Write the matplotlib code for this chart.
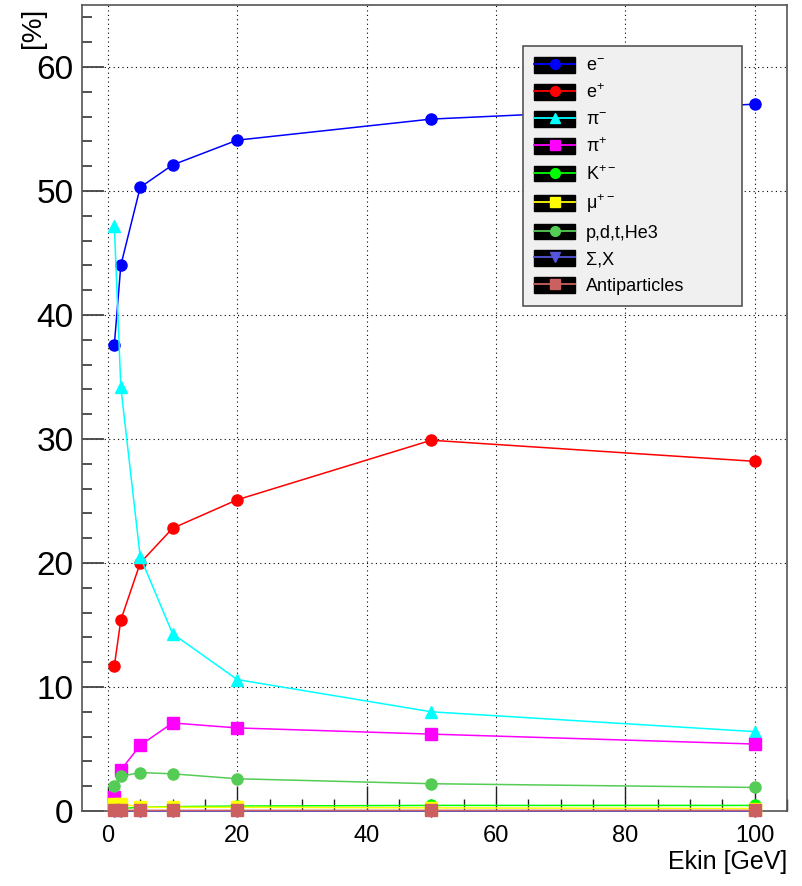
import matplotlib
matplotlib.use("Agg")
import matplotlib.pyplot as plt
from matplotlib.lines import Line2D
from matplotlib.patches import Rectangle
from matplotlib.legend_handler import HandlerTuple
from matplotlib.ticker import MultipleLocator

plt.rcParams['font.family'] = ['Liberation Sans', 'DejaVu Sans']
plt.rcParams['mathtext.fontset'] = 'custom'
plt.rcParams['mathtext.rm'] = 'Liberation Sans'
plt.rcParams['mathtext.it'] = 'Liberation Sans'

ekin = [1, 2, 5, 10, 20, 50, 100]

e_minus = [37.6, 44.0, 50.3, 52.1, 54.1, 55.8, 57.0]
e_plus = [11.7, 15.4, 20.0, 22.8, 25.1, 29.9, 28.2]
pi_minus = [47.2, 34.2, 20.5, 14.3, 10.6, 8.0, 6.4]
pi_plus = [1.1, 3.3, 5.3, 7.1, 6.7, 6.2, 5.4]
kaons = [0.15, 0.2, 0.3, 0.35, 0.4, 0.45, 0.45]
muons = [0.6, 0.6, 0.3, 0.3, 0.3, 0.25, 0.2]
nuclei = [2.0, 2.8, 3.1, 3.0, 2.6, 2.2, 1.9]
hyperons = [0.02, 0.02, 0.02, 0.02, 0.02, 0.02, 0.02]
antiparticles = [0.1, 0.05, 0.05, 0.05, 0.05, 0.05, 0.05]

labels = ['e$^{-}$', 'e$^{+}$', 'π$^{-}$', 'π$^{+}$', 'K$^{+-}$',
          'μ$^{+-}$', 'p,d,t,He3', 'Σ,X', 'Antiparticles']
series = [e_minus, e_plus, pi_minus, pi_plus, kaons, muons, nuclei, hyperons, antiparticles]
colors = ['#0000ff', '#ff0000', '#00ffff', '#ff00ff', '#00ff00', '#ffff00',
          '#55cc55', '#5555dd', '#cc5f5f']
markers = ['o', 'o', '^', 's', 'o', 's', 'o', 'v', 's']

fig = plt.figure(figsize=(8.02, 8.86), dpi=100)
ax = fig.add_axes([82 / 802, 1 - 811 / 886, (787 - 82) / 802, (811 - 5) / 886])

handles = []
for y, lab, c, m in zip(series, labels, colors, markers):
    ms = 8 if m != '^' else 8.5
    ax.plot(ekin, y, color=c, lw=1.1, marker=m, ms=ms, mec=c, mfc=c,
            clip_on=False, zorder=3)
    box = Rectangle((0, 0), 1, 1, facecolor='black', edgecolor='black')
    proxy = Line2D([], [], color=c, lw=1.3, marker=m, ms=7, mec=c, mfc=c)
    handles.append((box, proxy))

ax.set_xlim(-4, 105)
ax.set_ylim(0, 65)
ax.xaxis.set_major_locator(MultipleLocator(20))
ax.xaxis.set_minor_locator(MultipleLocator(5))
ax.yaxis.set_major_locator(MultipleLocator(10))
ax.yaxis.set_minor_locator(MultipleLocator(2))

ax.grid(True, which='major', color='black', linestyle=(0, (1, 3)), lw=0.8)
ax.set_axisbelow(True)

for s in ax.spines.values():
    s.set_color('#555555')
    s.set_linewidth(1.2)

ax.tick_params(axis='y', which='major', direction='in', length=16, width=1.3,
               color='#444444', labelsize=24, pad=6)
ax.tick_params(axis='y', which='minor', direction='in', length=7.5, width=1.3, color='#444444')
ax.tick_params(axis='x', which='major', direction='in', length=18, width=1.0,
               color='#222222', labelsize=17, pad=10)
ax.tick_params(axis='x', which='minor', direction='in', length=9, width=1.0, color='#222222')

ax.set_xlabel('Ekin [GeV]', fontsize=18, loc='right', labelpad=2)
fig.text(33 / 802, 1 - 28 / 886, '[%]', rotation=90, fontsize=20,
         ha='center', va='center')

leg = ax.legend(handles, labels, handler_map={tuple: HandlerTuple(ndivide=1, pad=0)},
                loc='upper left', bbox_to_anchor=(523 / 802, 1 - 55 / 886, (742 - 523) / 802, 0.01),
                bbox_transform=fig.transFigure, mode='expand', borderaxespad=0,
                fontsize=13, handlelength=2.3, handleheight=0.95, handletextpad=0.6,
                labelspacing=0.48, borderpad=0.6, fancybox=False, framealpha=1)
leg.get_frame().set_facecolor('#f0f0f0')
leg.get_frame().set_edgecolor('#555555')
leg.get_frame().set_linewidth(1.2)
leg.set_zorder(5)

fig.savefig('out.png', dpi=100)
